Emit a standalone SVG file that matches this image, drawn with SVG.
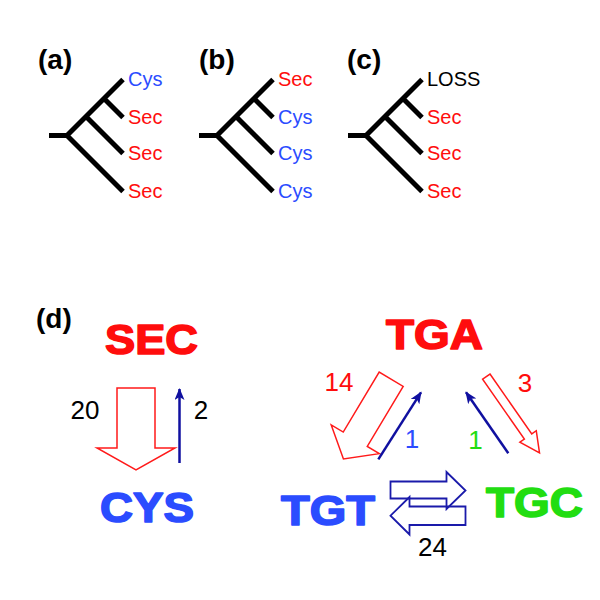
<svg xmlns="http://www.w3.org/2000/svg" width="600" height="600" viewBox="0 0 600 600">
<style>
.tree{fill:none;stroke:#000;stroke-width:5;stroke-linecap:butt}
.lbl{font-family:"Liberation Sans",Arial,sans-serif;font-size:20px}
.hdr{font-family:"Liberation Sans",Arial,sans-serif;font-size:28px;font-weight:bold;fill:#000}
.big{font-family:"Liberation Sans",Arial,sans-serif;font-size:42px;font-weight:bold;stroke-width:1.6;stroke-linejoin:round}
.num{font-family:"Liberation Sans",Arial,sans-serif;font-size:26px;text-anchor:middle}
.red{fill:#ff0d0d}
.blue{fill:#2b4cff}
.green{fill:#22dd11}
.blk{fill:#000}
.big.red{stroke:#ff0d0d}
.big.blue{stroke:#2b4cff}
.big.green{stroke:#22dd11}
.hollowR{fill:none;stroke:#ff1a1a;stroke-width:1.5;stroke-linejoin:miter}
.hollowB{fill:none;stroke:#1a1aaa;stroke-width:1.8;stroke-linejoin:miter}
.thin{fill:none;stroke:#1010a0;stroke-width:2.5}
</style>
<defs>
<marker id="ah" markerUnits="userSpaceOnUse" markerWidth="12" markerHeight="10" refX="11" refY="5" orient="auto">
<path d="M0,0 L12,5 L0,10 L3,5 Z" fill="#1010a0"/>
</marker>
<g id="treeShape">
<path class="tree" d="M49,135.5 H67 M67,135.5 L123,79.5 M67,135.5 L123,191.5 M86,116.5 L123,153.5 M104,98.5 L123,117.5"/>
</g>
</defs>

<g id="panel-a">
<text class="hdr" x="38" y="69">(a)</text>
<use href="#treeShape"/>
<text class="lbl blue" x="128" y="86">Cys</text>
<text class="lbl red" x="128" y="124">Sec</text>
<text class="lbl red" x="128" y="160">Sec</text>
<text class="lbl red" x="128" y="198">Sec</text>
</g>

<g id="panel-b">
<text class="hdr" x="199" y="69">(b)</text>
<use href="#treeShape" transform="translate(150,0)"/>
<text class="lbl red" x="278" y="86">Sec</text>
<text class="lbl blue" x="278" y="124">Cys</text>
<text class="lbl blue" x="278" y="160">Cys</text>
<text class="lbl blue" x="278" y="198">Cys</text>
</g>

<g id="panel-c">
<text class="hdr" x="347" y="69">(c)</text>
<use href="#treeShape" transform="translate(299,0)"/>
<text class="lbl blk" x="427" y="86">LOSS</text>
<text class="lbl red" x="427" y="124">Sec</text>
<text class="lbl red" x="427" y="160">Sec</text>
<text class="lbl red" x="427" y="198">Sec</text>
</g>

<text class="hdr" x="36" y="328">(d)</text>

<g id="node-sec"><text class="big red" x="105" y="354" textLength="93" lengthAdjust="spacingAndGlyphs">SEC</text></g>
<g id="node-cys"><text class="big blue" x="100" y="522" textLength="94" lengthAdjust="spacingAndGlyphs">CYS</text></g>
<g id="node-tga"><text class="big red" x="386" y="349" textLength="97" lengthAdjust="spacingAndGlyphs">TGA</text></g>
<g id="node-tgt"><text class="big blue" x="281" y="525" textLength="94" lengthAdjust="spacingAndGlyphs">TGT</text></g>
<g id="node-tgc"><text class="big green" x="486" y="517" textLength="97" lengthAdjust="spacingAndGlyphs">TGC</text></g>

<g id="connectors">
<polygon class="hollowR" points="117,388 155,388 155,448 175,448 136,470 97,448 117,448"/>
<line class="thin" x1="179.5" y1="463" x2="179.5" y2="389" marker-end="url(#ah)"/>
<polygon class="hollowR" transform="translate(391.2,379.2) rotate(120.9)" points="0,-14 70,-14 70,-28 93,0 70,28 70,14 0,14"/>
<line class="thin" x1="378.3" y1="459.3" x2="421" y2="392.3" marker-end="url(#ah)"/>
<line class="thin" x1="508.3" y1="453.3" x2="466" y2="392.3" marker-end="url(#ah)"/>
<polygon class="hollowR" transform="translate(486.3,376.6) rotate(55.1)" points="0,-4.5 73,-4.5 73,-10 93,0 73,10 73,4.5 0,4.5"/>
<polygon class="hollowB" points="390.5,481.5 446.5,481.5 446.5,472 465.5,490.5 446.5,509 446.5,498.5 390.5,498.5"/>
<polygon class="hollowB" points="465.5,506.5 409.5,506.5 409.5,497 390.5,515.7 409.5,534.5 409.5,525 465.5,525"/>
</g>

<g id="labels">
<text class="num blk" x="85" y="419">20</text>
<text class="num blk" x="201" y="419">2</text>
<text class="num red" x="339" y="391">14</text>
<text class="num blue" x="412" y="448">1</text>
<text class="num green" x="475.5" y="449">1</text>
<text class="num red" x="525" y="391.5">3</text>
<text class="num blk" x="432.5" y="556">24</text>
</g>
</svg>
